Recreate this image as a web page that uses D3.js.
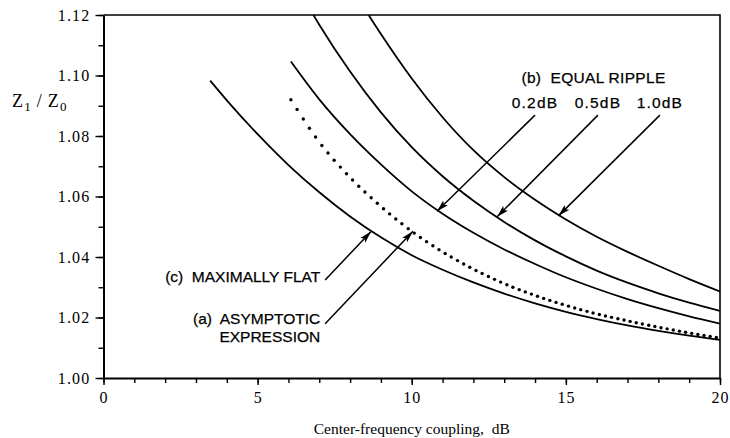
<!DOCTYPE html>
<html><head><meta charset="utf-8">
<script src="https://cdn.jsdelivr.net/npm/d3@7"></script>
<style>body{margin:0;background:#fff}svg{display:block}</style>
</head><body>
<svg id="chart" width="730" height="438"></svg>
<script>
// ---- data ----
const xTickValues = [0, 5, 10, 15, 20];
const xTickLabels = ["0", "5", "10", "15", "20"];
const yTickValues = [1.00, 1.02, 1.04, 1.06, 1.08, 1.10, 1.12];
const yTickLabels = ["1.00", "1.02", "1.04", "1.06", "1.08", "1.10", "1.12"];

// (c) maximally flat
const flatDB = [3.46, 4, 5, 6, 7, 8, 9, 10, 11, 12, 13, 14, 15, 16, 17, 18, 19, 20];
const flatZ  = [1.0983, 1.0918, 1.0806, 1.0704, 1.0614, 1.0534, 1.0465, 1.0406, 1.0358, 1.0316, 1.0279, 1.0247, 1.0219, 1.0195, 1.0174, 1.0156, 1.0140, 1.0126];
// (a) asymptotic expression
const asymDB = [6.08, 7, 8, 9, 10, 11, 12, 13, 14, 15, 16, 17, 18, 19, 20];
const asymZ  = [1.0920, 1.0780, 1.0663, 1.0567, 1.0485, 1.0417, 1.0360, 1.0312, 1.0273, 1.0240, 1.0212, 1.0189, 1.0168, 1.0149, 1.0132];
// (b) equal ripple 0.2 dB
const r02DB = [6.08, 7, 8, 9, 10, 11, 12, 13, 14, 15, 16, 17, 18, 19, 20];
const r02Z  = [1.1046, 1.0921, 1.0806, 1.0706, 1.0617, 1.0543, 1.0480, 1.0425, 1.0377, 1.0333, 1.0295, 1.0261, 1.0231, 1.0204, 1.0180];
// (b) equal ripple 0.5 dB
const r05DB = [6.81, 7, 8, 9, 10, 11, 12, 13, 14, 15, 16, 17, 18, 19, 20];
const r05Z  = [1.1200, 1.1168, 1.1013, 1.0878, 1.0763, 1.0667, 1.0586, 1.0516, 1.0455, 1.0402, 1.0355, 1.0315, 1.0280, 1.0249, 1.0222];
// (b) equal ripple 1.0 dB
const r10DB = [8.6, 9, 10, 11, 12, 13, 14, 15, 16, 17, 18, 19, 20];
const r10Z  = [1.1200, 1.1137, 1.0990, 1.0862, 1.0753, 1.0664, 1.0589, 1.0524, 1.0467, 1.0417, 1.0371, 1.0327, 1.0286];

const dotStepDB = 0.2;

// ---- layout ----
const svg = d3.select("#chart");
const x = d3.scaleLinear().domain([0, 20]).range([103.5, 720]);
const y = d3.scaleLinear().domain([1.00, 1.12]).range([378, 15]);
const serif = "'Liberation Serif','Times New Roman',serif";
const sans = "'Liberation Sans',Arial,Helvetica,sans-serif";

const defs = svg.append("defs");
defs.append("clipPath").attr("id", "plot")
  .append("rect").attr("x", x(0)).attr("y", y(1.12)).attr("width", x(20) - x(0)).attr("height", y(1.00) - y(1.12));
defs.append("marker").attr("id", "arrow").attr("viewBox", "0 0 12 8")
  .attr("refX", 12).attr("refY", 4).attr("markerWidth", 12).attr("markerHeight", 8)
  .attr("markerUnits", "userSpaceOnUse").attr("orient", "auto")
  .append("path").attr("d", "M0,0.6 L12,4 L0,7.4 L2.5,4 Z").attr("fill", "#000");

// axes
const xMinor = d3.range(0, 21, 1);
const yMinor = d3.range(0, 13).map(i => 1 + i * 0.01);

const xAxis = d3.axisBottom(x).tickValues(xTickValues).tickFormat((d, i) => xTickLabels[i]).tickSize(7).tickSizeOuter(0).tickPadding(7);
const gx = svg.append("g").attr("transform", `translate(0,${y(1.00)})`).call(xAxis);
gx.selectAll("text").style("font-family", serif).style("font-size", "16px").attr("fill", "#000").attr("letter-spacing", 1);
svg.append("g").attr("transform", `translate(0,${y(1.00)})`)
  .call(d3.axisBottom(x).tickValues(xMinor).tickSize(5).tickFormat("")).select(".domain").remove();

const yAxis = d3.axisLeft(y).tickValues(yTickValues).tickFormat((d, i) => yTickLabels[i]).tickSize(8).tickSizeOuter(0).tickPadding(5);
const gy = svg.append("g").attr("transform", `translate(${x(0)},0)`).call(yAxis);
gy.selectAll("text").style("font-family", serif).style("font-size", "16px").attr("fill", "#000").attr("letter-spacing", 1.2);
svg.append("g").attr("transform", `translate(${x(0)},0)`)
  .call(d3.axisLeft(y).tickValues(yMinor).tickSize(5).tickFormat("")).select(".domain").remove();

svg.selectAll(".domain").attr("stroke-width", 2);
svg.selectAll(".tick line").attr("stroke-width", 1.4);

// frame top/right
svg.append("path")
  .attr("d", `M${x(0)},${y(1.12)} H${x(20)} V${y(1.00)}`)
  .attr("fill", "none").attr("stroke", "#000").attr("stroke-width", 1.6);

// curves
const line = d3.line().x(d => x(d[0])).y(d => y(d[1])).curve(d3.curveMonotoneX);
const zip = (a, b) => a.map((v, i) => [v, b[i]]);
const plot = svg.append("g").attr("clip-path", "url(#plot)");
[[flatDB, flatZ], [r02DB, r02Z], [r05DB, r05Z], [r10DB, r10Z]].forEach(([a, b]) => {
  plot.append("path").datum(zip(a, b)).attr("d", line)
    .attr("fill", "none").attr("stroke", "#000").attr("stroke-width", 1.8);
});

// dotted asymptotic curve: dots placed along the drawn curve at fixed dB steps
const guide = plot.append("path").datum(zip(asymDB, asymZ)).attr("d", line)
  .attr("fill", "none").attr("stroke", "none");
const node = guide.node();
const total = node.getTotalLength();
let nextDB = asymDB[0];
const dots = [];
for (let L = 0; L <= total; L += 0.25) {
  const p = node.getPointAtLength(L);
  if (p.x >= x(nextDB) - 0.01) { dots.push([p.x, p.y]); nextDB += dotStepDB; }
}
plot.selectAll("circle.dot").data(dots).join("circle").attr("class", "dot")
  .attr("cx", d => d[0]).attr("cy", d => d[1]).attr("r", 1.7).attr("fill", "#000");

// annotations (data coordinates)
const arrows = [
  {from: [14.0, 1.0869], to: [10.82, 1.0551]},
  {from: [16.04, 1.0869], to: [12.77, 1.0533]},
  {from: [18.05, 1.0869], to: [14.76, 1.0536]},
  {from: [7.19, 1.0324], to: [8.68, 1.0484]},
  {from: [7.19, 1.0179], to: [10.04, 1.0485]}
];
svg.selectAll("line.arrow").data(arrows).join("line").attr("class", "arrow")
  .attr("x1", d => x(d.from[0])).attr("y1", d => y(d.from[1]))
  .attr("x2", d => x(d.to[0])).attr("y2", d => y(d.to[1]))
  .attr("stroke", "#000").attr("stroke-width", 1.5).attr("marker-end", "url(#arrow)");

const labels = [
  {t: "(b)  EQUAL RIPPLE", at: [13.56, 1.0975], anchor: "start", ls: 0.3},
  {t: "0.2dB", at: [14.0, 1.0893], anchor: "middle", ls: 1.2},
  {t: "0.5dB", at: [16.04, 1.0893], anchor: "middle", ls: 1.2},
  {t: "1.0dB", at: [18.05, 1.0893], anchor: "middle", ls: 1.2},
  {t: "(c)  MAXIMALLY FLAT", at: [7.03, 1.0317], anchor: "end", ls: 0},
  {t: "(a)  ASYMPTOTIC", at: [7.03, 1.0178], anchor: "end", ls: 0},
  {t: "EXPRESSION", at: [7.03, 1.0119], anchor: "end", ls: 0}
];
svg.selectAll("text.ann").data(labels).join("text").attr("class", "ann")
  .attr("x", d => x(d.at[0])).attr("y", d => y(d.at[1]))
  .attr("text-anchor", d => d.anchor).attr("letter-spacing", d => d.ls)
  .attr("font-family", sans).attr("font-size", 15.5).attr("fill", "#000")
  .attr("stroke", "#000").attr("stroke-width", 0.25)
  .style("white-space", "pre").text(d => d.t);

// axis titles
svg.append("text").attr("x", (x(0) + x(20)) / 2).attr("y", 434).attr("text-anchor", "middle")
  .attr("font-family", serif).attr("font-size", 15.5).attr("fill", "#000")
  .text("Center-frequency coupling,\u00a0 dB");

const yl = svg.append("text").attr("x", 12).attr("y", 107)
  .attr("font-family", serif).attr("font-size", 18).attr("fill", "#000").attr("letter-spacing", 1.2);
yl.append("tspan").text("Z");
yl.append("tspan").attr("font-size", 13).attr("dy", 4).text("1");
yl.append("tspan").attr("dy", -4).text("\u2009/\u2009Z");
yl.append("tspan").attr("font-size", 13).attr("dy", 4).text("0");
</script>
</body></html>
